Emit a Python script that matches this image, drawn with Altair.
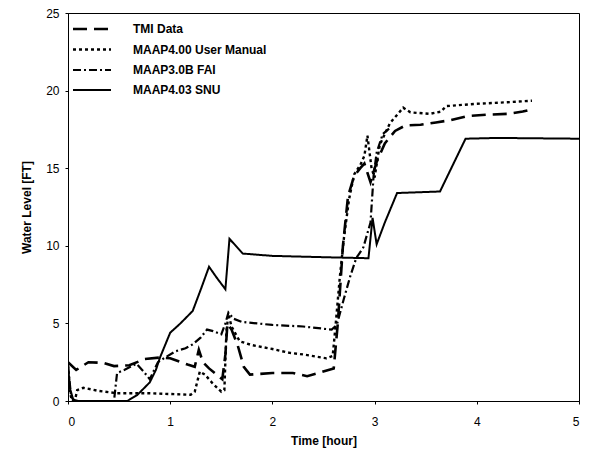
import altair as alt
import pandas as pd

series_names = ["TMI Data", "MAAP4.00 User Manual", "MAAP3.0B FAI", "MAAP4.03 SNU"]

tmi_t = [0.0, 0.08, 0.2, 0.35, 0.45, 0.6, 0.75, 0.9, 1.0, 1.17, 1.24, 1.28, 1.32, 1.38, 1.51,
         1.54, 1.56, 1.6, 1.66, 1.72, 1.78, 1.88, 2.0, 2.2, 2.34, 2.45, 2.6, 2.64, 2.69, 2.74,
         2.8, 2.86, 2.9, 2.96, 3.02, 3.1, 3.2, 3.3, 3.45, 3.6, 3.75, 3.9, 4.1, 4.3, 4.45, 4.54]
tmi_v = [2.5, 2.0, 2.5, 2.45, 2.25, 2.3, 2.7, 2.8, 2.75, 2.35, 2.2, 3.3, 2.5, 2.1, 1.4,
         3.0, 5.0, 4.6, 3.6, 2.2, 1.7, 1.75, 1.8, 1.8, 1.6, 1.8, 2.1, 5.0, 10.0, 13.2,
         14.5, 15.0, 15.3, 14.1, 15.4, 16.6, 17.4, 17.75, 17.8, 17.95, 18.1, 18.35, 18.45, 18.5, 18.65, 18.8]

um_t = [0.0, 0.02, 0.04, 0.07, 0.09, 0.15, 0.3, 0.48, 0.8, 1.0, 1.2, 1.24, 1.29, 1.34, 1.42,
        1.5, 1.53, 1.55, 1.57, 1.6, 1.68, 1.8, 2.0, 2.17, 2.3, 2.53, 2.59, 2.62, 2.66, 2.7,
        2.75, 2.8, 2.86, 2.9, 2.93, 2.97, 3.0, 3.05, 3.15, 3.28, 3.35, 3.54, 3.65, 3.7, 4.0,
        4.3, 4.54]
um_v = [2.3, 0.5, 0.0, 0.1, 0.7, 0.85, 0.65, 0.5, 0.5, 0.45, 0.4, 0.6, 1.9, 1.7, 1.1,
        0.6, 0.7, 4.5, 5.6, 4.8, 3.85, 3.6, 3.35, 3.1, 3.0, 2.75, 2.9, 5.0, 8.0, 10.5,
        13.0, 14.6, 15.2, 15.8, 17.1, 15.0, 14.4, 16.5, 17.9, 18.9, 18.6, 18.5, 18.65, 19.0, 19.15,
        19.25, 19.35]

fai_t = [0.0, 0.03, 0.06, 0.45, 0.48, 0.55, 0.67, 0.74, 0.8, 0.88, 0.95, 1.05, 1.15, 1.22, 1.3,
         1.36, 1.42, 1.5, 1.54, 1.57, 1.62, 1.7, 2.0, 2.3, 2.58, 2.63, 2.7, 2.76, 2.82, 2.89,
         2.96, 2.99, 3.02, 3.08, 3.15]
fai_v = [2.3, 0.3, 0.0, 0.0, 1.8, 2.0, 2.4, 1.9, 1.4, 2.5, 2.8, 3.2, 3.4, 3.65, 4.1,
         4.6, 4.5, 4.3, 5.0, 5.7, 5.3, 5.1, 4.9, 4.8, 4.6, 4.9, 6.6, 8.0, 9.2, 9.9,
         11.5, 14.5, 16.0, 17.2, 17.6]

snu_t = [0.0, 0.02, 0.05, 0.1, 0.58, 0.68, 0.8, 0.86, 0.9, 1.0, 1.1, 1.22, 1.3, 1.38, 1.46,
         1.54, 1.58, 1.71, 2.0, 2.3, 2.6, 2.94, 2.98, 3.02, 3.1, 3.22, 3.64, 3.89, 4.2, 5.0]
snu_v = [2.3, 0.8, 0.1, 0.0, 0.0, 0.4, 1.2, 2.0, 2.8, 4.4, 5.0, 5.8, 7.2, 8.65, 7.9,
         7.2, 10.45, 9.5, 9.35, 9.3, 9.25, 9.2, 11.8, 10.1, 11.5, 13.4, 13.5, 16.9, 16.95, 16.9]

x_ticks = [0, 1, 2, 3, 4, 5]
y_ticks = [0, 5, 10, 15, 20, 25]

rows = []
for name, ts, vs in zip(series_names, [tmi_t, um_t, fai_t, snu_t], [tmi_v, um_v, fai_v, snu_v]):
    for i, (t, v) in enumerate(zip(ts, vs)):
        rows.append({"series": name, "t": t, "level": v, "idx": i})
df = pd.DataFrame(rows)

FONT = "Liberation Sans"

legend = alt.Legend(
    title=None, orient="none", legendX=13, legendY=5, padding=0,
    symbolType="M-2,0H2", symbolSize=361, symbolStrokeColor="black",
    labelFont=FONT, labelFontSize=12, labelFontWeight="bold", labelColor="black",
    labelOffset=30, rowPadding=3.5,
)

chart = alt.Chart(df).mark_line(color="black", clip=True).encode(
    x=alt.X("t:Q", scale=alt.Scale(domain=[0, 5], nice=False),
            axis=alt.Axis(title="Time [hour]", values=x_ticks, format="d", labelPadding=12, titlePadding=8)),
    y=alt.Y("level:Q", scale=alt.Scale(domain=[0, 25], nice=False),
            axis=alt.Axis(title="Water Level [FT]", values=y_ticks, format="d", labelPadding=6, titlePadding=12)),
    strokeDash=alt.StrokeDash("series:N",
                              scale=alt.Scale(domain=series_names, range=[[14, 7], [3, 3], [8, 3, 2, 3], [1, 0]]),
                              legend=legend),
    strokeWidth=alt.StrokeWidth("series:N",
                                scale=alt.Scale(domain=series_names, range=[2.6, 2.0, 1.2, 1.5]),
                                legend=legend),
    order="idx:Q",
).properties(
    width=511, height=388,
    autosize=alt.AutoSizeParams(type="none"),
    padding={"left": 60, "top": 5, "right": 6, "bottom": 55},
).configure_view(
    stroke="black", strokeWidth=1
).configure_axis(
    grid=False, domainColor="black", tickColor="black", tickSize=3,
    labelFont=FONT, labelFontSize=12, labelColor="black",
    titleFont=FONT, titleFontSize=12, titleFontWeight="bold", titleColor="black",
)

chart.save("out.html", embed_options={"renderer": "svg", "actions": False})
